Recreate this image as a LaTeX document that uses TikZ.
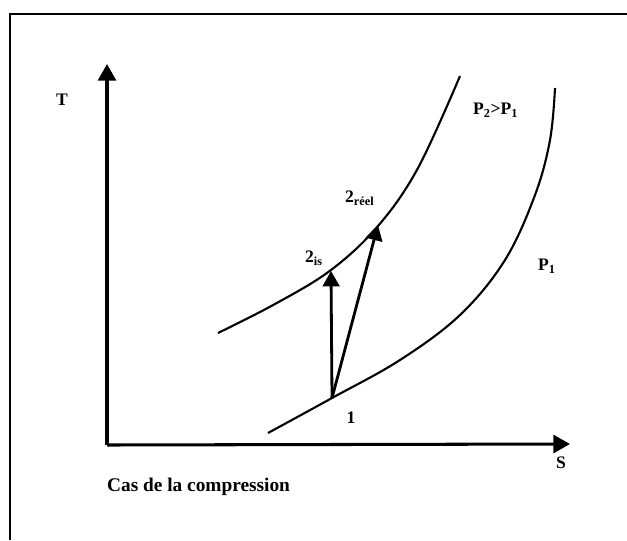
\documentclass[tikz,border=0pt]{standalone}
\usepackage{fontspec}
\setmainfont{Liberation Serif}
\usetikzlibrary{arrows.meta}
\definecolor{ink}{HTML}{000000}

\begin{document}
\begin{tikzpicture}[x=0.03cm, y=-0.03cm, line width=2pt,
  axis/.style={ink, line width=2.6pt, -{Triangle[length=5mm, width=5.4mm]}},
  procarrow/.style={ink, line width=2.4pt, -{Triangle[length=4.6mm, width=5mm]}},
  isobar/.style={ink, line width=1.8pt},
  lbl/.style={text=ink, font=\bfseries\fontsize{15}{17}\selectfont, inner sep=0pt}]

% Background
\useasboundingbox (0,0) rectangle (627,540);
\draw[ink, line width=2.4pt] (10,540) -- (10,14) -- (627,14);

% Axes
\coordinate (O) at (107,445);
\coordinate (Ttip) at (107,64);
\coordinate (Stip) at (570,444);
\draw[axis] (O) -- (Ttip);
\draw[axis] (O) -- (Stip);
\node[lbl] (labT) at (62,100) {T};
\node[lbl] (labS) at (561,463) {S};

% Isobars
\draw[isobar] plot[smooth, tension=0.6] coordinates
  {(218,333) (275,304) (331,270) (378,226) (418,168) (460,76)};
\draw[isobar] plot[smooth, tension=0.6] coordinates
  {(268,433) (332,398) (400,360) (460,315) (505,260) (535,195) (550,140) (555,88)};
\node[lbl, anchor=west] (labP2) at (472,110) {P\textsubscript{2}>P\textsubscript{1}};
\node[lbl, anchor=west] (labP1) at (537,266) {P\textsubscript{1}};

% States
\coordinate (p1) at (332,398);
\coordinate (p2is) at (331,271);
\coordinate (p2r) at (378,225);
\draw[procarrow] (p1) -- (p2is);
\draw[procarrow] (p1) -- (p2r);
\node[lbl] (lab1) at (351,418) {1};
\node[lbl, anchor=west] (lab2is) at (304,258) {2\textsubscript{is}};
\node[lbl, anchor=west] (lab2r) at (344,198) {2\textsubscript{réel}};

% Caption
\node[lbl, anchor=west, font=\bfseries\fontsize{16.5}{18}\selectfont] (cap) at (106,487) {Cas de la compression};

\end{tikzpicture}
\end{document}
